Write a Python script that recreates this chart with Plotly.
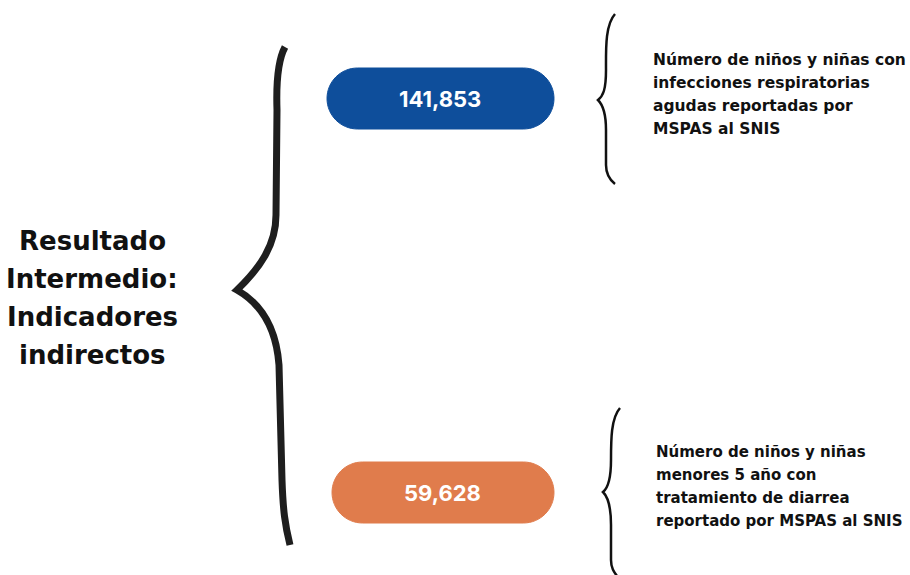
import plotly.graph_objects as go

# ---- data ----
values = [141853, 59628]
pill_colors = ["#0E4E9B", "#E07C4C"]
descriptions = [
    ["Número de niños y niñas con", "infecciones respiratorias", "agudas reportadas por", "MSPAS al SNIS"],
    ["Número de niños y niñas", "menores 5 año con", "tratamiento de diarrea", "reportado por MSPAS al SNIS"],
]
left_title = ["Resultado", "Intermedio:", "Indicadores", "indirectos"]

W, H = 910, 575
FONT = "Inter, 'Open Sans', sans-serif"
FONT2 = "'DejaVu Sans', sans-serif"

fig = go.Figure()
fig.add_trace(go.Scatter(x=[0, W], y=[0, H], mode="markers", marker=dict(opacity=0), hoverinfo="skip", showlegend=False))

shapes = []

def pill(x0, y0, x1, y1):
    r = (y1 - y0) / 2
    yc = (y0 + y1) / 2
    k = 0.5523 * r
    return (f"M {x0+r} {y0} L {x1-r} {y0} "
            f"C {x1-r+k} {y0} {x1} {yc-k} {x1} {yc} "
            f"C {x1} {yc+k} {x1-r+k} {y1} {x1-r} {y1} "
            f"L {x0+r} {y1} "
            f"C {x0+r-k} {y1} {x0} {yc+k} {x0} {yc} "
            f"C {x0} {yc-k} {x0+r-k} {y0} {x0+r} {y0} Z")

pill_boxes = [(327, 68, 554, 129), (332, 462, 554, 523)]
for (x0, y0, x1, y1), col in zip(pill_boxes, pill_colors):
    shapes.append(dict(type="path", path=pill(x0, y0, x1, y1), fillcolor=col,
                       line=dict(color=col, width=1), layer="below"))

# big brace
shapes.append(dict(type="path",
    path="M 285 47 C 278 60, 276 80, 277 110 L 276 215 C 276 245, 260 268, 237 290 "
         "C 258 302, 276 325, 279 365 L 282 480 C 283 510, 285 525, 290 545",
    line=dict(color="#1e1e1e", width=7)))
# small braces
shapes.append(dict(type="path",
    path="M 615 14 C 605 25, 606 50, 606 70 C 606 90, 603 96, 598 100 "
         "C 604 106, 606 115, 606 130 L 606 165 C 606 175, 610 180, 615 184",
    line=dict(color="#111111", width=2.5)))
shapes.append(dict(type="path",
    path="M 620 408 C 611 418, 611 440, 611 460 C 611 480, 608 488, 603 492 "
         "C 609 498, 611 510, 611 525 L 611 560 C 611 568, 614 572, 617 576",
    line=dict(color="#111111", width=2.5)))

annotations = []
for (x0, y0, x1, y1), v in zip(pill_boxes, values):
    annotations.append(dict(x=(x0 + x1) / 2 - 1, y=(y0 + y1) / 2, text=f"{v:,}", showarrow=False,
                            font=dict(family=FONT, size=22, color="white", weight=700),
                            xanchor="center", yanchor="middle"))

desc_pos = [(651, 60), (654, 452)]
desc_sizes = [15.5, 15]
for (x, y), lines, fs in zip(desc_pos, descriptions, desc_sizes):
    for i, ln in enumerate(lines):
        annotations.append(dict(x=x, y=y + i * 23, text=ln, showarrow=False,
                                font=dict(family=FONT2, size=fs, color="#111111", weight="bold"),
                                xanchor="left", yanchor="middle"))

for i, ln in enumerate(left_title):
    annotations.append(dict(x=92, y=241 + i * 38, text=ln, showarrow=False,
                            font=dict(family=FONT2, size=26, color="#111111", weight="bold"),
                            xanchor="center", yanchor="middle"))

fig.update_layout(
    width=W, height=H, margin=dict(l=0, r=0, t=0, b=0),
    paper_bgcolor="white", plot_bgcolor="white",
    xaxis=dict(range=[0, W], visible=False, fixedrange=True),
    yaxis=dict(range=[H, 0], visible=False, fixedrange=True),
    shapes=shapes, annotations=annotations, showlegend=False,
)
fig.write_html("out.html", config={"displayModeBar": False},
               post_script="document.body.style.margin='0';document.body.style.padding='0';")
